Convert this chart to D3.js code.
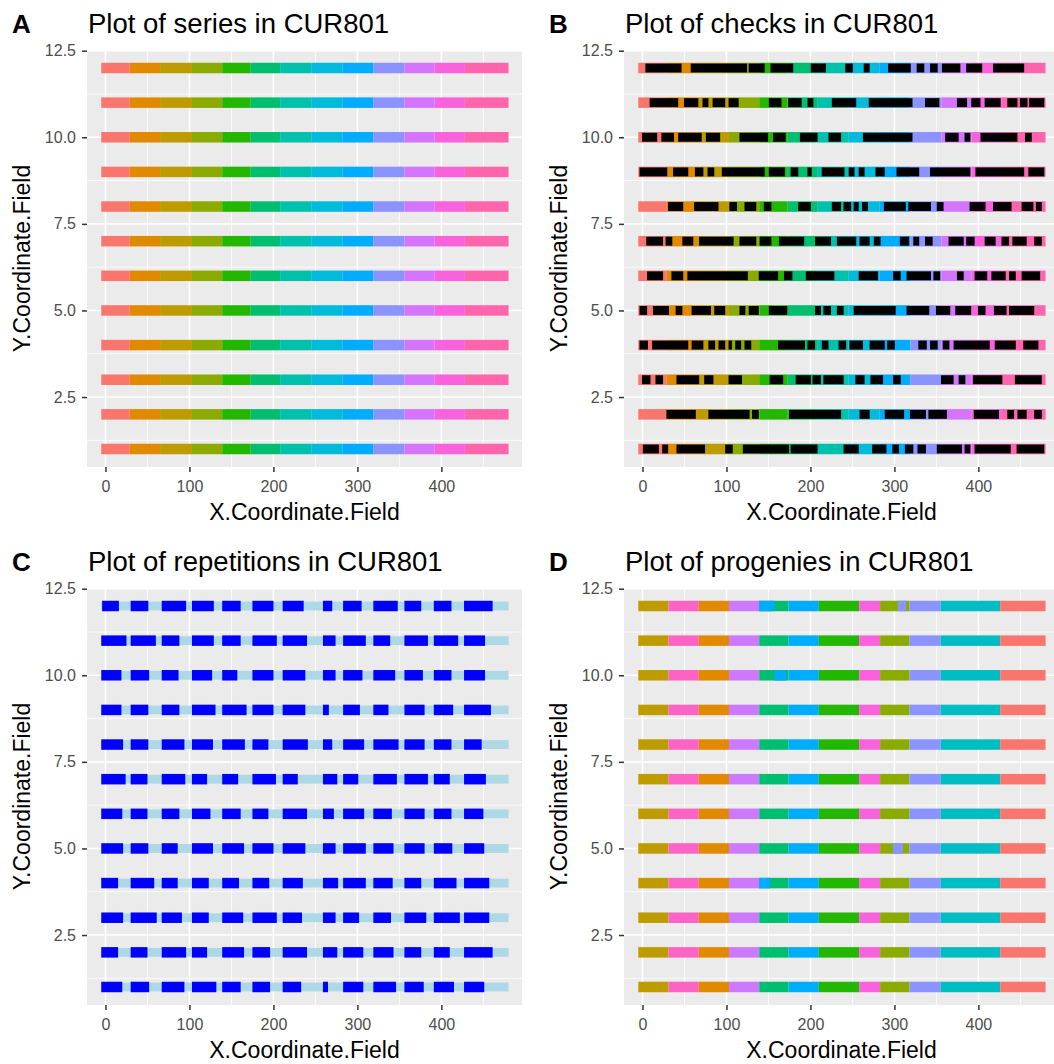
<!DOCTYPE html>
<html><head><meta charset="utf-8">
<script src="https://cdn.jsdelivr.net/npm/d3@7"></script>
<style>
body{margin:0;background:#fff;}
svg{display:block;}
text{font-family:"Liberation Sans",Arial,Helvetica,sans-serif;}
</style>
</head><body>
<svg id="chart" width="1054" height="1064"></svg>
<script>
// ---------- data ----------
const rows = [1,2,3,4,5,6,7,8,9,10,11,12];
const xTicks = [0,100,200,300,400];
const xMinorTicks = [50,150,250,350,450];
const yTicks = [2.5,5,7.5,10,12.5];
const yTickLabels = ["2.5","5.0","7.5","10.0","12.5"];
const yMinorTicks = [1.25,3.75,6.25,8.75,11.25];

// Panel A: series (identical in every row)
const seriesNames = ["S1","S2","S3","S4","S5","S6","S7","S8","S9","S10","S11","S12","S13"];
const seriesStart = [-5,29,65,103,139,173,208,245,282,319,356,392,428];
const seriesEnd   = [29,65,103,139,173,208,245,282,319,356,392,428,480];
const seriesColors = ["#F8766D","#E18A00","#BE9C00","#8CAB00","#24B700","#00BE70","#00C1AB","#00BBDA","#00ACFC","#8B93FF","#D575FE","#F962DD","#FF65AC"];

// Panel B: check (black) blocks per row, x-extent
const check01 = [[0,20],[23,31],[40,75],[98,108],[119,175],[176,209],[239,258],[273,291],[297,306],[312,323],[327,338],[350,381],[383,391],[395,439],[445,479]];
const check02 = [[28,64],[78,128],[130,139],[174,237],[258,271],[288,312],[318,338],[340,363],[394,425],[434,443],[446,458],[466,476]];
const check03 = [[-1,10],[15,25],[40,68],[73,85],[102,119],[151,168],[182,201],[202,213],[215,240],[253,265],[271,287],[298,308],[355,371],[376,385],[393,429],[443,476]];
const check04 = [[-4,7],[11,55],[58,73],[78,87],[90,99],[102,107],[110,118],[121,130],[161,194],[196,206],[213,222],[233,243],[246,263],[270,289],[291,301],[328,339],[342,352],[357,366],[370,414],[419,445],[453,472]];
const check05 = [[-4,6],[12,32],[39,48],[58,82],[85,99],[115,123],[126,139],[150,173],[205,213],[215,225],[231,240],[251,302],[314,342],[349,367],[372,392],[399,409],[418,434],[436,467]];
const check06 = [[5,25],[34,49],[53,126],[138,162],[168,179],[194,229],[257,281],[298,308],[314,344],[346,355],[374,383],[395,411],[415,433],[436,445],[451,474]];
const check07 = [[4,25],[27,36],[47,61],[67,109],[115,136],[139,154],[162,193],[205,225],[231,255],[258,271],[275,284],[306,318],[322,330],[336,346],[364,383],[385,396],[407,421],[427,437],[440,458],[466,476]];
const check08 = [[30,49],[61,91],[103,113],[121,136],[144,154],[185,201],[225,237],[239,249],[251,258],[261,269],[287,314],[316,344],[350,359],[389,409],[417,440],[451,466],[468,476]];
const check09 = [[-4,30],[36,55],[62,73],[77,86],[94,146],[150,170],[176,186],[196,202],[213,241],[245,253],[257,265],[277,289],[302,330],[342,391],[396,455],[459,479]];
const check10 = [[-1,18],[22,38],[42,71],[75,93],[115,150],[155,171],[187,209],[221,237],[262,322],[360,377],[383,391],[402,447],[455,464]];
const check11 = [[8,43],[49,67],[71,79],[83,99],[102,115],[150,166],[173,190],[196,204],[225,255],[269,322],[336,354],[374,387],[391,403],[407,427],[434,447],[449,459],[460,479]];
const check12 = [[3,47],[57,125],[126,146],[152,180],[200,219],[241,251],[263,271],[292,320],[326,336],[342,352],[356,379],[385,405],[417,455]];
const checkRows = [check01,check02,check03,check04,check05,check06,check07,check08,check09,check10,check11,check12];

// Panel C: repetition (dark blue) blocks per row
const rep01 = [[-5,20],[30,52],[67,94],[103,132],[139,161],[175,196],[211,233],[259,265],[283,307],[319,346],[356,379],[391,415],[427,451]];
const rep02 = [[-5,15],[30,50],[67,96],[103,121],[139,165],[175,196],[211,240],[259,276],[283,307],[319,343],[356,376],[391,410],[427,461]];
const rep03 = [[-5,21],[30,61],[67,91],[103,123],[139,164],[175,204],[211,234],[259,274],[283,302],[319,340],[356,382],[391,422],[427,457]];
const rep04 = [[-5,15],[30,58],[67,86],[103,123],[139,159],[175,195],[211,235],[259,277],[283,310],[319,342],[356,376],[391,418],[427,457]];
const rep05 = [[-5,21],[30,51],[67,86],[103,128],[139,165],[175,200],[211,238],[259,274],[283,310],[319,343],[356,380],[391,413],[427,451]];
const rep06 = [[-5,20],[30,50],[67,88],[103,125],[139,161],[175,194],[211,240],[259,272],[283,308],[319,341],[356,380],[391,412],[427,450]];
const rep07 = [[-5,24],[30,50],[67,95],[103,121],[139,158],[175,203],[211,229],[259,276],[283,301],[319,347],[356,384],[391,410],[427,453]];
const rep08 = [[-5,21],[30,51],[67,94],[103,128],[139,166],[175,194],[211,241],[259,270],[283,308],[319,349],[356,380],[391,412],[427,448]];
const rep09 = [[-5,19],[30,51],[67,88],[103,131],[139,168],[175,200],[211,238],[259,266],[283,303],[319,337],[356,380],[391,414],[427,459]];
const rep10 = [[-5,19],[30,52],[67,87],[103,127],[139,157],[175,200],[211,238],[259,274],[283,306],[319,345],[356,378],[391,412],[427,452]];
const rep11 = [[-5,25],[30,60],[67,88],[103,129],[139,161],[175,204],[211,240],[259,274],[283,310],[319,339],[356,384],[391,420],[427,452]];
const rep12 = [[-4,16],[30,51],[67,96],[103,129],[139,161],[175,200],[211,236],[259,270],[283,305],[319,348],[356,376],[391,412],[427,461]];
const repRows = [rep01,rep02,rep03,rep04,rep05,rep06,rep07,rep08,rep09,rep10,rep11,rep12];

// Panel D: progenies (common layout + per-row patches)
const progenyNames = ["P1","P2","P3","P4","P5","P6","P7","P8","P9","P10","P11","P12"];
const progenyStart = [-5,31,67,103,139,174,210,258,283,318,355,426];
const progenyEnd   = [31,67,103,139,174,210,258,283,318,355,426,480];
const progenyColors = ["#BE9C00","#FB63C4","#E18A00","#CD79FF","#00BE70","#00ACFC","#24B700","#F962DD","#8CAB00","#8B93FF","#00BDC4","#F8766D"];
const progenyPatches = [[12,139,157,"P6"],[12,304,314,"P10"],[10,157,171,"P6"],[5,298,310,"P10"],[4,139,152,"P6"]];

// ---------- layout ----------
const W = 435, H = 417;
const panels = [
  {key:"A", title:"Plot of series in CUR801", left:87, top:50},
  {key:"B", title:"Plot of checks in CUR801", left:624, top:50},
  {key:"C", title:"Plot of repetitions in CUR801", left:87, top:588},
  {key:"D", title:"Plot of progenies in CUR801", left:624, top:588}
];
const x = d3.scaleLinear().domain([-22,496]).range([0,W]);
const y = d3.scaleLinear().domain([0.48,12.52]).range([H,0]);
const svg = d3.select("#chart");
const seriesColor = d3.scaleOrdinal().domain(seriesNames).range(seriesColors);
const progenyColor = d3.scaleOrdinal().domain(progenyNames).range(progenyColors);
const BAR = 10.5;

function makePanel(p){
  const g = svg.append("g").attr("transform",`translate(${p.left},${p.top})`);
  g.append("rect").attr("width",W).attr("height",H).attr("fill","#EBEBEB");
  g.selectAll(".vmin").data(xMinorTicks).join("line")
    .attr("x1",d=>x(d)).attr("x2",d=>x(d)).attr("y1",0).attr("y2",H)
    .attr("stroke","#fff").attr("stroke-width",0.8);
  g.selectAll(".hmin").data(yMinorTicks).join("line")
    .attr("y1",d=>y(d)).attr("y2",d=>y(d)).attr("x1",0).attr("x2",W)
    .attr("stroke","#fff").attr("stroke-width",0.8);
  g.selectAll(".vmaj").data(xTicks).join("line")
    .attr("x1",d=>x(d)).attr("x2",d=>x(d)).attr("y1",0).attr("y2",H)
    .attr("stroke","#fff").attr("stroke-width",1.6);
  g.selectAll(".hmaj").data(yTicks).join("line")
    .attr("y1",d=>y(d)).attr("y2",d=>y(d)).attr("x1",0).attr("x2",W)
    .attr("stroke","#fff").attr("stroke-width",1.6);

  const xa = g.append("g").attr("transform",`translate(0,${H})`)
    .call(d3.axisBottom(x).tickValues(xTicks).tickSize(5).tickPadding(9).tickFormat(d3.format("d")));
  const ya = g.append("g")
    .call(d3.axisLeft(y).tickValues(yTicks).tickSize(5).tickPadding(6).tickFormat((d,i)=>yTickLabels[i]));
  [xa,ya].forEach(a=>{
    a.select(".domain").remove();
    a.selectAll(".tick line").attr("stroke","#333").attr("stroke-width",1.5);
    a.selectAll(".tick text").attr("fill","#4D4D4D").style("font-size","16px")
      .style("font-family","'Liberation Sans',Arial,sans-serif");
  });
  g.append("text").attr("x",W/2).attr("y",H+53).attr("text-anchor","middle")
    .style("font-size","23px").attr("fill","#000").text("X.Coordinate.Field");
  g.append("text").attr("transform",`translate(-57,${H/2}) rotate(-90)`).attr("text-anchor","middle")
    .style("font-size","23px").attr("fill","#000").text("Y.Coordinate.Field");
  g.append("text").attr("x",1).attr("y",-17).style("font-size","27.5px").attr("fill","#000").text(p.title);
  svg.append("text").attr("x",p.left-75).attr("y",p.top-17).style("font-size","26px")
    .style("font-weight","bold").attr("fill","#000").text(p.key);
  return g;
}

const seriesTiles = rows.flatMap(r=>seriesNames.map((s,i)=>({row:r,x0:seriesStart[i],x1:seriesEnd[i],name:s})));

// A
const gA = makePanel(panels[0]);
gA.selectAll(".tile").data(seriesTiles).join("rect")
  .attr("x",d=>x(d.x0)).attr("width",d=>x(d.x1)-x(d.x0))
  .attr("y",d=>y(d.row)-BAR/2).attr("height",BAR)
  .attr("fill",d=>seriesColor(d.name));

// B
const gB = makePanel(panels[1]);
gB.selectAll(".tile").data(seriesTiles).join("rect")
  .attr("x",d=>x(d.x0)).attr("width",d=>x(d.x1)-x(d.x0))
  .attr("y",d=>y(d.row)-BAR/2).attr("height",BAR)
  .attr("fill",d=>seriesColor(d.name));
const checkTiles = checkRows.flatMap((arr,i)=>arr.map(b=>({row:rows[i],x0:b[0],x1:b[1]})));
gB.selectAll(".chk").data(checkTiles).join("rect")
  .attr("x",d=>x(d.x0)+0.4).attr("width",d=>Math.max(1,x(d.x1)-x(d.x0)-0.8))
  .attr("y",d=>y(d.row)-BAR/2+0.8).attr("height",BAR-1.6)
  .attr("fill","#000");

// C
const gC = makePanel(panels[2]);
gC.selectAll(".base").data(rows).join("rect")
  .attr("x",x(seriesStart[0])).attr("width",x(seriesEnd[seriesEnd.length-1])-x(seriesStart[0]))
  .attr("y",d=>y(d)-4.4).attr("height",8.8).attr("fill","#ADD8E6");
const repTiles = repRows.flatMap((arr,i)=>arr.map(b=>({row:rows[i],x0:b[0],x1:b[1]})));
gC.selectAll(".rep").data(repTiles).join("rect")
  .attr("x",d=>x(d.x0)).attr("width",d=>x(d.x1)-x(d.x0))
  .attr("y",d=>y(d.row)-BAR/2).attr("height",BAR).attr("fill","#0000FF");

// D
const gD = makePanel(panels[3]);
const progTiles = rows.flatMap(r=>progenyNames.map((s,i)=>({row:r,x0:progenyStart[i],x1:progenyEnd[i],name:s})))
  .concat(progenyPatches.map(p=>({row:p[0],x0:p[1],x1:p[2],name:p[3]})));
gD.selectAll(".tile").data(progTiles).join("rect")
  .attr("x",d=>x(d.x0)).attr("width",d=>x(d.x1)-x(d.x0))
  .attr("y",d=>y(d.row)-BAR/2).attr("height",BAR)
  .attr("fill",d=>progenyColor(d.name));
</script>
</body></html>
